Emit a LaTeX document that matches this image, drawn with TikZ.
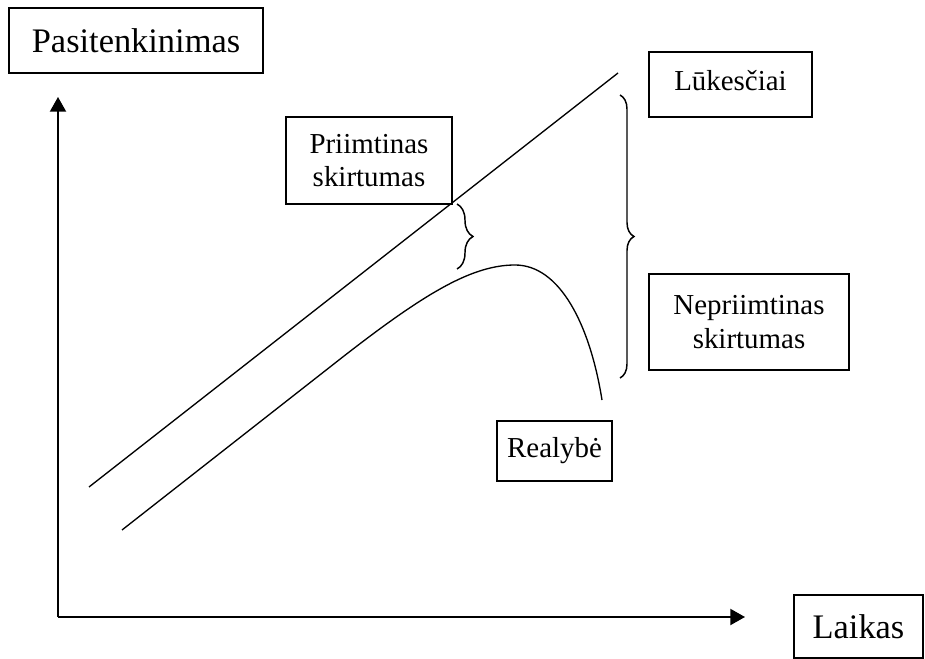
\documentclass[tikz,border=0pt]{standalone}
\usepackage{fontspec}
\setmainfont{Liberation Serif}
\usetikzlibrary{arrows.meta,decorations.pathreplacing}

\begin{document}
\begin{tikzpicture}[x=0.75pt,y=-0.75pt,
    box/.style={draw,line width=1.2pt,inner sep=0pt,align=center},
    bigtxt/.style={font=\fontsize{25.8}{30}\selectfont},
    smalltxt/.style={font=\fontsize{21.7}{25}\selectfont},
    axis/.style={line width=1.5pt,-{Triangle[length=11pt,width=12pt]}},
    curve/.style={line width=1pt},
    bracket/.style={line width=1.1pt,decorate,decoration={brace,amplitude=#1}},
    ]
\useasboundingbox (0,0) rectangle (925,659);

%-------------------------------------------- Axes
\coordinate (origin) at (58,617);
\coordinate (ytip) at (58,97);
\coordinate (xtip) at (745,617);
\draw[axis] (origin)--(ytip);   % Satisfaction
\draw[axis] (origin)--(xtip);   % Time

% Axis names
\node[box,bigtxt,minimum width=190.5pt,minimum height=48.75pt] (pasit) at (136,40.5) {Pasitenkinimas};
\node[box,bigtxt,minimum width=96.75pt,minimum height=47.25pt] (laikas) at (858.5,626.5) {Laikas};

%-------------------------------------------- Expectations
\coordinate (exp1) at (89,487);
\coordinate (exp2) at (618,73);
\draw[curve] (exp1)--(exp2);   % straight line
\node[box,smalltxt,minimum width=122.25pt,minimum height=48.75pt,text depth=6pt] (lukesc) at (730.5,84.5) {Lūkesčiai};

%-------------------------------------------- Reality
\coordinate (real1) at (122,530);
\coordinate (real2) at (330,367);
\coordinate (peak) at (515,265);
\coordinate (real3) at (602,400);
\draw[curve] (real1)--(real2)
    .. controls (420,296) and (470,265) .. (peak)
    .. controls (560,265) and (590,325) .. (real3);
\node[box,smalltxt,minimum width=86.25pt,minimum height=45pt] (realybe) at (554.5,451) {Realybė};

%-------------------------------------------- Gaps
\coordinate (sb1) at (457,204);
\coordinate (sb2) at (457,269);
\draw[bracket=12pt] (sb1)--(sb2);   % small gap
\node[box,smalltxt,minimum width=124.5pt,minimum height=65.25pt] (priimt) at (369,160.5) {Priimtinas\\skirtumas};

\coordinate (bb1) at (620,95);
\coordinate (bb2) at (620,378);
\draw[bracket=10.5pt] (bb1)--(bb2);   % big gap
\node[box,smalltxt,minimum width=150pt,minimum height=72pt] (nepriimt) at (749,322) {Nepriimtinas\\skirtumas};

\end{tikzpicture}
\end{document}
